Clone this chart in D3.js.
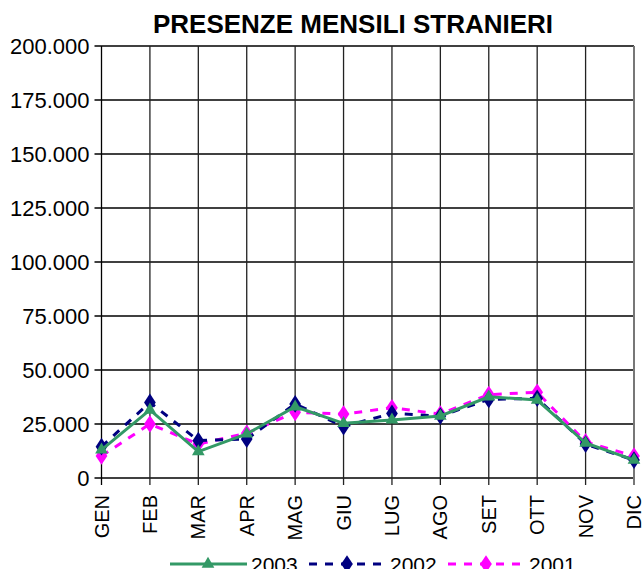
<!DOCTYPE html>
<html lang="it">
<head>
<meta charset="UTF-8">
<title>Presenze mensili stranieri</title>
<script src="https://cdn.jsdelivr.net/npm/d3@7"></script>
<style>
  body { margin: 0; background: #fff; }
  text { font-family: "Liberation Sans", Arial, sans-serif; }
</style>
</head>
<body>
<script>
// dati
var mesi = ["GEN","FEB","MAR","APR","MAG","GIU","LUG","AGO","SET","OTT","NOV","DIC"];
var anni = ["2003","2002","2001"];
var v2003 = [13000,31500,12200,20400,33000,25300,26900,28700,37600,36100,16200,8300];
var v2002 = [14500,35000,17300,18000,34300,23800,29900,28700,36400,36900,15700,8300];
var v2001 = [10200,25000,15700,20700,30400,29600,32500,29600,38600,39700,16700,10200];
var yTicks = [0,25000,50000,75000,100000,125000,150000,175000,200000];

var series = [
  {name: anni[0], values: v2003, color: "#339966", dash: null, marker: "triangle"},
  {name: anni[1], values: v2002, color: "#000080", dash: "8,8", marker: "diamond"},
  {name: anni[2], values: v2001, color: "#ff00ff", dash: "8,8", marker: "diamond"}
];

var W = 644, H = 569;
var mL = 101.5, mR = 634, mT = 46, mB = 478;

var svg = d3.select("body").append("svg").attr("width", W).attr("height", H);

var x = d3.scalePoint().domain(mesi).range([mL, mR]);
var y = d3.scaleLinear().domain([0, 200000]).range([mB, mT]);

var fmt = function(d) { return d3.format(",")(d).replace(/,/g, "."); };

svg.append("text").attr("x", 353).attr("y", 33).attr("text-anchor", "middle")
  .style("font-size", "26px").style("font-weight", "bold").text("PRESENZE MENSILI STRANIERI");

// griglia orizzontale
svg.append("g").selectAll("line").data(yTicks).enter().append("line")
  .attr("x1", mL - 7).attr("x2", mR)
  .attr("y1", function(d) { return y(d); }).attr("y2", function(d) { return y(d); })
  .attr("stroke", "#000").attr("stroke-width", 1.3);

// griglia verticale
svg.append("g").selectAll("line").data(mesi).enter().append("line")
  .attr("x1", function(d) { return x(d); }).attr("x2", function(d) { return x(d); })
  .attr("y1", mT).attr("y2", mB + 7)
  .attr("stroke", function(d, i) { return i == 0 ? "#000" : (i == mesi.length - 1 ? "#777" : "#222"); })
  .attr("stroke-width", function(d, i) { return i == mesi.length - 1 ? 2 : 1.3; });

// etichette asse y
svg.append("g").selectAll("text").data(yTicks).enter().append("text")
  .attr("x", mL - 12).attr("y", function(d) { return y(d) + 8; })
  .attr("text-anchor", "end").style("font-size", "22px")
  .text(function(d) { return fmt(d); });

// etichette mesi ruotate
svg.append("g").selectAll("text").data(mesi).enter().append("text")
  .attr("transform", function(d) { return "translate(" + (x(d) + 7) + "," + 495 + ") rotate(-90)"; })
  .attr("text-anchor", "end").style("font-size", "20px")
  .text(function(d) { return d; });

var line = d3.line().x(function(d, i) { return x(mesi[i]); }).y(function(d) { return y(d); });

function marker(g, type, color, cx, cy) {
  if (type == "triangle") {
    g.append("path").attr("d", d3.symbol().type(d3.symbolTriangle).size(70)())
      .attr("transform", "translate(" + cx + "," + cy + ")").attr("fill", color);
  } else {
    g.append("path").attr("d", d3.symbol().type(d3.symbolDiamond).size(90)())
      .attr("transform", "translate(" + cx + "," + cy + ") scale(1.15,1)").attr("fill", color);
  }
}

// disegna dal fondo: 2001, 2002, 2003
series.slice().reverse().forEach(function(s) {
  var g = svg.append("g");
  g.append("path").datum(s.values).attr("d", line)
    .attr("fill", "none").attr("stroke", s.color).attr("stroke-width", 3)
    .attr("stroke-dasharray", s.dash);
  s.values.forEach(function(v, i) { marker(g, s.marker, s.color, x(mesi[i]), y(v)); });
});

// legenda
var legX = [170, 309, 448];
series.forEach(function(s, i) {
  var g = svg.append("g");
  g.append("line").attr("x1", legX[i]).attr("x2", legX[i] + 77).attr("y1", 564).attr("y2", 564)
    .attr("stroke", s.color).attr("stroke-width", 3).attr("stroke-dasharray", s.dash);
  marker(g, s.marker, s.color, legX[i] + 38, 564);
  g.append("text").attr("x", legX[i] + 81).attr("y", 572).style("font-size", "21px").text(s.name);
});
</script>
</body>
</html>
